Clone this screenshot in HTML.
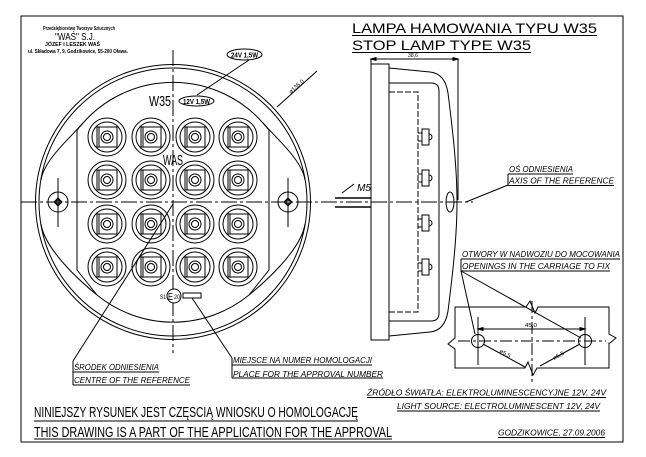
<!DOCTYPE html>
<html><head><meta charset="utf-8"><style>
html,body{margin:0;padding:0;background:#fff;width:646px;height:457px;overflow:hidden}
svg{display:block}
text{font-family:"Liberation Sans","DejaVu Sans",sans-serif;fill:#000}
.it{font-style:italic}
</style></head><body>
<svg width="646" height="457" viewBox="0 0 646 457" xmlns="http://www.w3.org/2000/svg">
<rect x="0" y="0" width="646" height="457" fill="#fff"/>
<g fill="none" stroke="#000" stroke-width="1">
<!-- frame -->
<rect x="21" y="16" width="602" height="426"/>

<!-- outer circles -->
<circle cx="173" cy="202" r="137.5"/>
<circle cx="173" cy="202" r="134"/>
<!-- inner arcs -->
<path d="M83,123 A120,120 0 0 1 263,123"/>
<path d="M97,295 A120,120 0 0 0 249,295"/>
<path d="M83,123 C70,138 44,160 41,180"/>
<path d="M263,123 C276,138 302,160 305,180"/>
<path d="M97,295 C81,282 45,250 41,224"/>
<path d="M249,295 C265,282 301,250 305,224"/>
<!-- shield -->
<path d="M83,123 L77,130 L77,270 L97,295"/>
<path d="M263,123 L269,130 L269,270 L249,295"/>

<!-- centerlines -->
<line x1="21" y1="202" x2="473" y2="202" stroke-dasharray="16 3 3 3"/>
<line x1="173" y1="50" x2="173" y2="353" stroke-dasharray="16 3 3 3"/>

<!-- mounting holes -->
<circle cx="58" cy="202" r="10"/>
<path d="M58,198 L62,202 L58,206 L54,202 Z"/>
<circle cx="58" cy="202" r="2"/>
<line x1="58" y1="178" x2="58" y2="227"/>
<circle cx="288" cy="202" r="10"/>
<path d="M288,198 L292,202 L288,206 L284,202 Z"/>
<circle cx="288" cy="202" r="2"/>
<line x1="288" y1="178" x2="288" y2="227"/>

<!-- LEDs -->
<g transform="translate(107,137)"><circle r="19"/><circle r="15"/><rect x="-10" y="-10" width="20" height="20"/><line x1="-8" y1="-10" x2="-8" y2="10"/><circle r="6"/><circle r="3.5"/></g>
<g transform="translate(151,137)"><circle r="19"/><circle r="15"/><rect x="-10" y="-10" width="20" height="20"/><line x1="-8" y1="-10" x2="-8" y2="10"/><circle r="6"/><circle r="3.5"/></g>
<g transform="translate(195,137)"><circle r="19"/><circle r="15"/><rect x="-10" y="-10" width="20" height="20"/><line x1="-8" y1="-10" x2="-8" y2="10"/><circle r="6"/><circle r="3.5"/></g>
<g transform="translate(238,137)"><circle r="19"/><circle r="15"/><rect x="-10" y="-10" width="20" height="20"/><line x1="-8" y1="-10" x2="-8" y2="10"/><circle r="6"/><circle r="3.5"/></g>
<g transform="translate(107,180)"><circle r="19"/><circle r="15"/><rect x="-10" y="-10" width="20" height="20"/><line x1="-8" y1="-10" x2="-8" y2="10"/><circle r="6"/><circle r="3.5"/></g>
<g transform="translate(151,180)"><circle r="19"/><circle r="15"/><rect x="-10" y="-10" width="20" height="20"/><line x1="-8" y1="-10" x2="-8" y2="10"/><circle r="6"/><circle r="3.5"/></g>
<g transform="translate(195,180)"><circle r="19"/><circle r="15"/><rect x="-10" y="-10" width="20" height="20"/><line x1="-8" y1="-10" x2="-8" y2="10"/><circle r="6"/><circle r="3.5"/></g>
<g transform="translate(238,180)"><circle r="19"/><circle r="15"/><rect x="-10" y="-10" width="20" height="20"/><line x1="-8" y1="-10" x2="-8" y2="10"/><circle r="6"/><circle r="3.5"/></g>
<g transform="translate(107,224)"><circle r="19"/><circle r="15"/><rect x="-10" y="-10" width="20" height="20"/><line x1="-8" y1="-10" x2="-8" y2="10"/><circle r="6"/><circle r="3.5"/></g>
<g transform="translate(151,224)"><circle r="19"/><circle r="15"/><rect x="-10" y="-10" width="20" height="20"/><line x1="-8" y1="-10" x2="-8" y2="10"/><circle r="6"/><circle r="3.5"/></g>
<g transform="translate(195,224)"><circle r="19"/><circle r="15"/><rect x="-10" y="-10" width="20" height="20"/><line x1="-8" y1="-10" x2="-8" y2="10"/><circle r="6"/><circle r="3.5"/></g>
<g transform="translate(238,224)"><circle r="19"/><circle r="15"/><rect x="-10" y="-10" width="20" height="20"/><line x1="-8" y1="-10" x2="-8" y2="10"/><circle r="6"/><circle r="3.5"/></g>
<g transform="translate(107,267)"><circle r="19"/><circle r="15"/><rect x="-10" y="-10" width="20" height="20"/><line x1="-8" y1="-10" x2="-8" y2="10"/><circle r="6"/><circle r="3.5"/></g>
<g transform="translate(151,267)"><circle r="19"/><circle r="15"/><rect x="-10" y="-10" width="20" height="20"/><line x1="-8" y1="-10" x2="-8" y2="10"/><circle r="6"/><circle r="3.5"/></g>
<g transform="translate(195,267)"><circle r="19"/><circle r="15"/><rect x="-10" y="-10" width="20" height="20"/><line x1="-8" y1="-10" x2="-8" y2="10"/><circle r="6"/><circle r="3.5"/></g>
<g transform="translate(238,267)"><circle r="19"/><circle r="15"/><rect x="-10" y="-10" width="20" height="20"/><line x1="-8" y1="-10" x2="-8" y2="10"/><circle r="6"/><circle r="3.5"/></g>

<!-- ovals and leaders top -->
<ellipse cx="244.5" cy="54.5" rx="17.5" ry="5.5"/>
<ellipse cx="196.5" cy="101" rx="17.5" ry="5"/>
<line x1="249" y1="60" x2="197" y2="95"/>
<line x1="277" y1="107" x2="317" y2="71"/>

<!-- E mark -->
<circle cx="174" cy="296" r="7" fill="#fff"/>
<rect x="183" y="293" width="18" height="5"/>

<!-- leaders bottom -->
<line x1="173" y1="204" x2="73" y2="361"/>
<line x1="73" y1="361" x2="73" y2="385"/>
<line x1="73" y1="372" x2="159" y2="372"/>
<line x1="73" y1="385" x2="190" y2="385"/>
<line x1="192" y1="298" x2="232" y2="358"/>
<line x1="232" y1="358" x2="232" y2="378"/>
<line x1="232" y1="365" x2="372" y2="365"/>
<line x1="232" y1="378" x2="383" y2="378"/>

<!-- side view -->
<line x1="371" y1="59" x2="458" y2="59"/>
<path d="M371,59 l5,-1.5 v3 z M458,59 l-5,-1.5 v3 z" fill="#000"/>
<line x1="371" y1="59" x2="371" y2="64"/>
<line x1="458" y1="59" x2="458" y2="200"/>
<rect x="371" y="64" width="18" height="276"/>
<path d="M389,68 L430,72 C440,73 446,80 448,93 C452,125 457,165 457,202 C457,239 452,279 448,311 C446,324 440,331 430,332 L389,336"/>
<path d="M389,83 H431 Q439,83 439,91 V313 Q439,321 431,321 H389"/>
<path d="M389,92 H418 V312 H389" stroke-dasharray="6 2"/>
<g transform="translate(418,137)"><rect x="4" y="-8" width="7" height="16"/><path d="M11,-3 A3,3 0 0 1 11,3"/><line x1="0" y1="-4" x2="4" y2="-4"/><line x1="0" y1="4" x2="4" y2="4"/></g>
<g transform="translate(418,178)"><rect x="4" y="-8" width="7" height="16"/><path d="M11,-3 A3,3 0 0 1 11,3"/><line x1="0" y1="-4" x2="4" y2="-4"/><line x1="0" y1="4" x2="4" y2="4"/></g>
<g transform="translate(418,223)"><rect x="4" y="-8" width="7" height="16"/><path d="M11,-3 A3,3 0 0 1 11,3"/><line x1="0" y1="-4" x2="4" y2="-4"/><line x1="0" y1="4" x2="4" y2="4"/></g>
<g transform="translate(418,267)"><rect x="4" y="-8" width="7" height="16"/><path d="M11,-3 A3,3 0 0 1 11,3"/><line x1="0" y1="-4" x2="4" y2="-4"/><line x1="0" y1="4" x2="4" y2="4"/></g>
<ellipse cx="450" cy="202" rx="4" ry="10"/>
<line x1="335" y1="198" x2="371" y2="198" stroke-width="1.6"/>
<line x1="335" y1="207" x2="371" y2="207" stroke-width="1.6"/>
<line x1="342" y1="193" x2="354" y2="184"/>

<!-- right annotations -->
<line x1="466" y1="202" x2="508" y2="185"/>
<line x1="508" y1="174" x2="508" y2="185.5"/>
<line x1="508" y1="174" x2="573" y2="174"/>
<line x1="508" y1="185.5" x2="614" y2="185.5"/>
<line x1="461" y1="259" x2="461" y2="271"/>
<line x1="461" y1="259" x2="620" y2="259"/>
<line x1="461" y1="271" x2="610" y2="271"/>
<line x1="461" y1="271" x2="475" y2="334"/>
<line x1="461" y1="271" x2="581" y2="338"/>

<!-- mounting detail -->
<path d="M455,307 H526 L530,301 L535,313 L538,307 H609 V334 L616,338 L610,343 L609,343 V368 H537 L533,375 L528,362 L525,368 H455 V349 L448,344 L455,338 Z"/>
<circle cx="478" cy="341" r="6.5"/>
<circle cx="585" cy="341" r="6.5"/>
<line x1="478" y1="317" x2="478" y2="365"/>
<line x1="585" y1="317" x2="585" y2="365"/>
<line x1="458" y1="341" x2="606" y2="341" stroke-dasharray="12 3 3 3"/>
<line x1="532" y1="301" x2="532" y2="383" stroke-dasharray="12 3 3 3"/>
<line x1="478" y1="329" x2="585" y2="329"/>
<path d="M478,329 l5,-1.5 v3 z M585,329 l-5,-1.5 v3 z" fill="#000"/>
<line x1="483" y1="344" x2="525" y2="367"/>
<line x1="580" y1="344" x2="540" y2="366"/>

<!-- underlines -->
<line x1="352" y1="35.5" x2="597" y2="35.5"/>
<line x1="352" y1="52.5" x2="531" y2="52.5"/>
<line x1="34" y1="421" x2="358" y2="421"/>
<line x1="34" y1="439" x2="392" y2="439"/>
<line x1="367" y1="397.5" x2="606" y2="397.5"/>
<line x1="397" y1="411" x2="600" y2="411"/>
<line x1="498" y1="437.5" x2="605" y2="437.5"/>
</g>

<!-- texts -->
<text x="43" y="30" font-size="5.5" font-weight="bold" textLength="72" lengthAdjust="spacingAndGlyphs">Przedsiębiorstwo Tworzyw Sztucznych</text>
<text x="55" y="40" font-size="10" textLength="40" lengthAdjust="spacingAndGlyphs">"WAŚ" S.J.</text>
<text x="45" y="46" font-size="5.5" font-weight="bold" textLength="55" lengthAdjust="spacingAndGlyphs">JÓZEF I LESZEK WAŚ</text>
<text x="28" y="53" font-size="5.5" font-weight="bold" textLength="100" lengthAdjust="spacingAndGlyphs">ul. Składowa 7, 9, Godzikowice, 55-200 Oława.</text>

<text x="149" y="106" font-size="15" textLength="22" lengthAdjust="spacingAndGlyphs">W35</text>
<text x="163" y="165" font-size="15" textLength="20" lengthAdjust="spacingAndGlyphs">WAS</text>
<text x="231" y="57.5" font-size="7" font-weight="bold" textLength="27" lengthAdjust="spacingAndGlyphs">24V 1,5W</text>
<text x="183" y="104" font-size="7" font-weight="bold" textLength="27" lengthAdjust="spacingAndGlyphs">12V 1,5W</text>
<text x="0" y="0" font-size="6" transform="translate(291,94) rotate(-42)" textLength="18" lengthAdjust="spacingAndGlyphs">ø135,0</text>
<text x="160" y="299" font-size="6" textLength="6" lengthAdjust="spacingAndGlyphs">S1</text>
<text x="168" y="300" font-size="10" textLength="5" lengthAdjust="spacingAndGlyphs">E</text>
<text x="174" y="299" font-size="6" textLength="6" lengthAdjust="spacingAndGlyphs">20</text>
<text x="408" y="57" font-size="5" textLength="10" lengthAdjust="spacingAndGlyphs">38,6</text>
<text class="it" x="357" y="191" font-size="10" textLength="14" lengthAdjust="spacingAndGlyphs">M5</text>

<text x="352" y="33" font-size="14" textLength="245" lengthAdjust="spacingAndGlyphs">LAMPA HAMOWANIA TYPU W35</text>
<text x="352" y="50" font-size="14" textLength="179" lengthAdjust="spacingAndGlyphs">STOP LAMP TYPE W35</text>

<text class="it" x="509" y="172" font-size="8.5" textLength="64" lengthAdjust="spacingAndGlyphs">OŚ ODNIESIENIA</text>
<text class="it" x="509" y="183.5" font-size="8.5" textLength="105" lengthAdjust="spacingAndGlyphs">AXIS OF THE REFERENCE</text>
<text class="it" x="462" y="257" font-size="8.5" textLength="158" lengthAdjust="spacingAndGlyphs">OTWORY W NADWOZIU DO MOCOWANIA</text>
<text class="it" x="462" y="269" font-size="8.5" textLength="148" lengthAdjust="spacingAndGlyphs">OPENINGS IN THE CARRIAGE TO FIX</text>
<text x="525" y="327" font-size="5.5" textLength="12" lengthAdjust="spacingAndGlyphs">45,0</text>
<text font-size="5.5" transform="translate(499,352) rotate(29)" textLength="12" lengthAdjust="spacingAndGlyphs">ø5,5</text>
<text font-size="5.5" transform="translate(554,360) rotate(-29)" textLength="12" lengthAdjust="spacingAndGlyphs">ø5,5</text>

<text class="it" x="74" y="370" font-size="8.5" textLength="85" lengthAdjust="spacingAndGlyphs">ŚRODEK ODNIESIENIA</text>
<text class="it" x="74" y="383" font-size="8.5" textLength="116" lengthAdjust="spacingAndGlyphs">CENTRE OF THE REFERENCE</text>
<text class="it" x="233" y="363" font-size="8.5" textLength="139" lengthAdjust="spacingAndGlyphs">MIEJSCE NA NUMER HOMOLOGACJI</text>
<text class="it" x="233" y="377" font-size="8.5" textLength="150" lengthAdjust="spacingAndGlyphs">PLACE FOR THE APPROVAL NUMBER</text>

<text class="it" x="367" y="395.5" font-size="8.5" textLength="239" lengthAdjust="spacingAndGlyphs">ŹRÓDŁO ŚWIATŁA: ELEKTROLUMINESCENCYJNE 12V, 24V</text>
<text class="it" x="397" y="409" font-size="8.5" textLength="203" lengthAdjust="spacingAndGlyphs">LIGHT SOURCE: ELECTROLUMINESCENT 12V, 24V</text>
<text class="it" x="498" y="435.5" font-size="8.5" textLength="107" lengthAdjust="spacingAndGlyphs">GODZIKOWICE, 27.09.2006</text>

<text x="34" y="417" font-size="14.5" textLength="324" lengthAdjust="spacingAndGlyphs">NINIEJSZY RYSUNEK JEST CZĘSCIĄ WNIOSKU O HOMOLOGACJĘ</text>
<text x="34" y="437" font-size="14.5" textLength="358" lengthAdjust="spacingAndGlyphs">THIS DRAWING IS A PART OF THE APPLICATION FOR THE APPROVAL</text>
</svg>
</body></html>
